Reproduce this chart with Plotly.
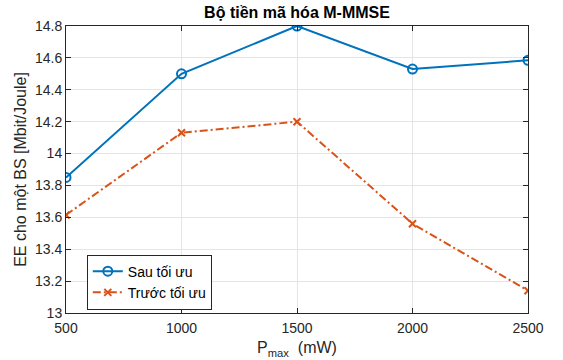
import plotly.graph_objects as go

p_max = [500, 1000, 1500, 2000, 2500]
sau_toi_uu = [13.85, 14.50, 14.80, 14.53, 14.585]
truoc_toi_uu = [13.615, 14.13, 14.20, 13.56, 13.14]

x_ticks = [500, 1000, 1500, 2000, 2500]
y_ticks = [13, 13.2, 13.4, 13.6, 13.8, 14, 14.2, 14.4, 14.6, 14.8]
y_labels = ["13", "13.2", "13.4", "13.6", "13.8", "14", "14.2", "14.4", "14.6", "14.8"]

font = "Liberation Sans, Arial, sans-serif"

fig = go.Figure()
fig.add_trace(go.Scatter(
    x=p_max, y=sau_toi_uu, name="Sau tối ưu", mode="lines+markers",
    line=dict(color="#0072BD", width=2),
    marker=dict(symbol="circle-open", size=9, color="#0072BD", line=dict(width=2)),
))
fig.add_trace(go.Scatter(
    x=p_max, y=truoc_toi_uu, name="Trước tối ưu", mode="lines+markers",
    line=dict(color="#D95319", width=2, dash="8px,3px,2px,3px"),
    marker=dict(symbol="x-thin-open", size=7, color="#D95319", line=dict(width=2, color="#D95319")),
))

axis_common = dict(
    showline=True, linecolor="#262626", linewidth=1, mirror="ticks",
    ticks="inside", ticklen=5, tickcolor="#262626",
    showgrid=True, gridcolor="#e5e5e5", gridwidth=1, zeroline=False,
    automargin=False,
    tickfont=dict(family=font, size=14, color="#262626"),
)

fig.update_layout(
    width=563, height=360,
    margin=dict(l=66, r=35, t=26, b=47),
    paper_bgcolor="white", plot_bgcolor="white",
    title=dict(text="<b>Bộ tiền mã hóa M-MMSE</b>", x=0.5, xref="paper", y=0.965, yanchor="middle",
               font=dict(family=font, size=16, color="black")),
    xaxis=dict(range=[500, 2500], tickvals=x_ticks, ticklabelstandoff=2, **axis_common,
               title=dict(text="P<sub>max</sub>  (mW)", standoff=7,
                          font=dict(family=font, size=16, color="#262626"))),
    yaxis=dict(range=[13, 14.8], tickvals=y_ticks, ticktext=y_labels, **axis_common,
               title=dict(text="EE cho một BS [Mbit/Joule]", standoff=4,
                          font=dict(family=font, size=16, color="#262626"))),
    legend=dict(x=0.045, y=0.012, xanchor="left", yanchor="bottom",
                bgcolor="white", bordercolor="#262626", borderwidth=1,
                font=dict(family=font, size=14, color="black"),
                tracegroupgap=0),
    showlegend=True,
)

fig.write_html("out.html")
